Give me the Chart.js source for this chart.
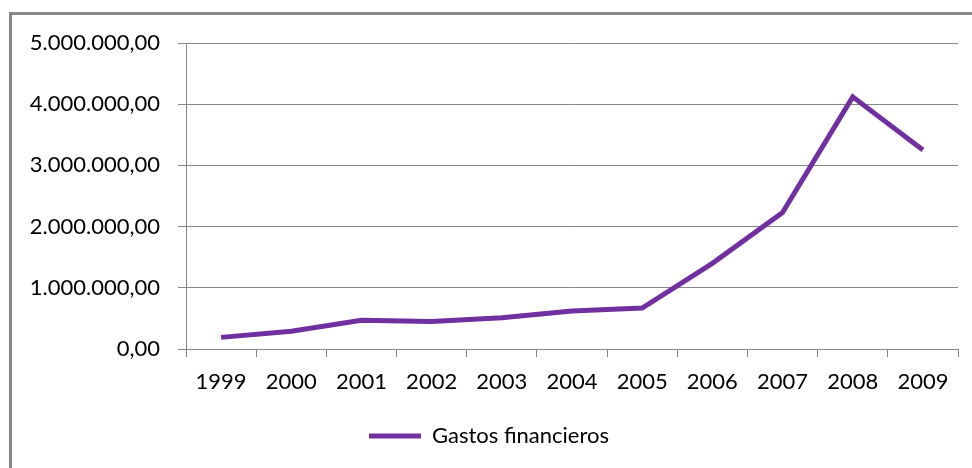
<!DOCTYPE html>
<html>
<head>
  <title>Gastos financieros</title>
  <script src="https://cdn.jsdelivr.net/npm/chart.js"></script>
  <style>
    body { margin: 0; background: #fff; overflow: hidden; }
    #frame {
      position: absolute; left: 9px; top: 12px;
      width: 1000px; height: 500px;
      border-left: 3px solid #878787; border-top: 3px solid #878787;
    }
    #wrap { position: absolute; left: 0; top: 0; width: 972px; height: 468px; }
  </style>
</head>
<body>
  <div id="frame"></div>
  <div id="wrap"><canvas id="lineChart"></canvas></div>

  <script>
    // Years on the x axis
    const years = ['1999', '2000', '2001', '2002', '2003', '2004', '2005', '2006', '2007', '2008', '2009'];
    // Gastos financieros
    const gastos = [190000, 290000, 470000, 450000, 510000, 620000, 670000, 1400000, 2230000, 4120000, 3250000];
    // Y axis ticks
    const yTicks = [0, 1000000, 2000000, 3000000, 4000000, 5000000];

    // 5000000 -> "5.000.000,00"
    function formatEs(v) {
      const parts = Math.round(v).toString().replace(/\B(?=(\d{3})+(?!\d))/g, '.');
      return parts + ',00';
    }

    const purple = '#7030A0';
    const grey = '#878787';

    const ctx = document.getElementById('lineChart').getContext('2d');
    new Chart(ctx, {
      type: 'line',
      data: {
        labels: years,
        datasets: [{
          label: 'Gastos financieros',
          data: gastos,
          borderColor: purple,
          backgroundColor: purple,
          borderWidth: 5,
          pointRadius: 0,
          tension: 0
        }]
      },
      options: {
        responsive: true,
        maintainAspectRatio: false,
        animation: false,
        layout: { padding: { left: 20, right: 14, top: 43, bottom: 11 } },
        font: { family: 'Lato', size: 22 },
        plugins: {
          tooltip: { enabled: false },
          legend: {
            position: 'bottom',
            labels: {
              color: '#000',
              font: { family: 'Lato', size: 22 },
              usePointStyle: true,
              pointStyle: 'line',
              pointStyleWidth: 52,
              padding: 10
            }
          }
        },
        scales: {
          x: {
            offset: true,
            afterFit: function(scale) { scale.height = 66; },
            grid: {
              offset: true,
              drawOnChartArea: false,
              drawTicks: true,
              tickLength: 8,
              color: grey
            },
            border: { color: grey, width: 1 },
            ticks: {
              color: '#000',
              padding: 12,
              maxRotation: 0,
              font: { family: 'Lato', size: 22 }
            }
          },
          y: {
            min: 0,
            max: 5000000,
            afterFit: function(scale) { scale.width = 166; },
            afterBuildTicks: function(scale) {
              scale.ticks = yTicks.map(v => ({ value: v }));
            },
            grid: { color: grey, tickLength: 8 },
            border: { color: grey, width: 1 },
            ticks: {
              color: '#000',
              padding: 18,
              font: { family: 'Lato', size: 22 },
              callback: function(value) { return formatEs(value); }
            }
          }
        }
      }
    });
  </script>
</body>
</html>
